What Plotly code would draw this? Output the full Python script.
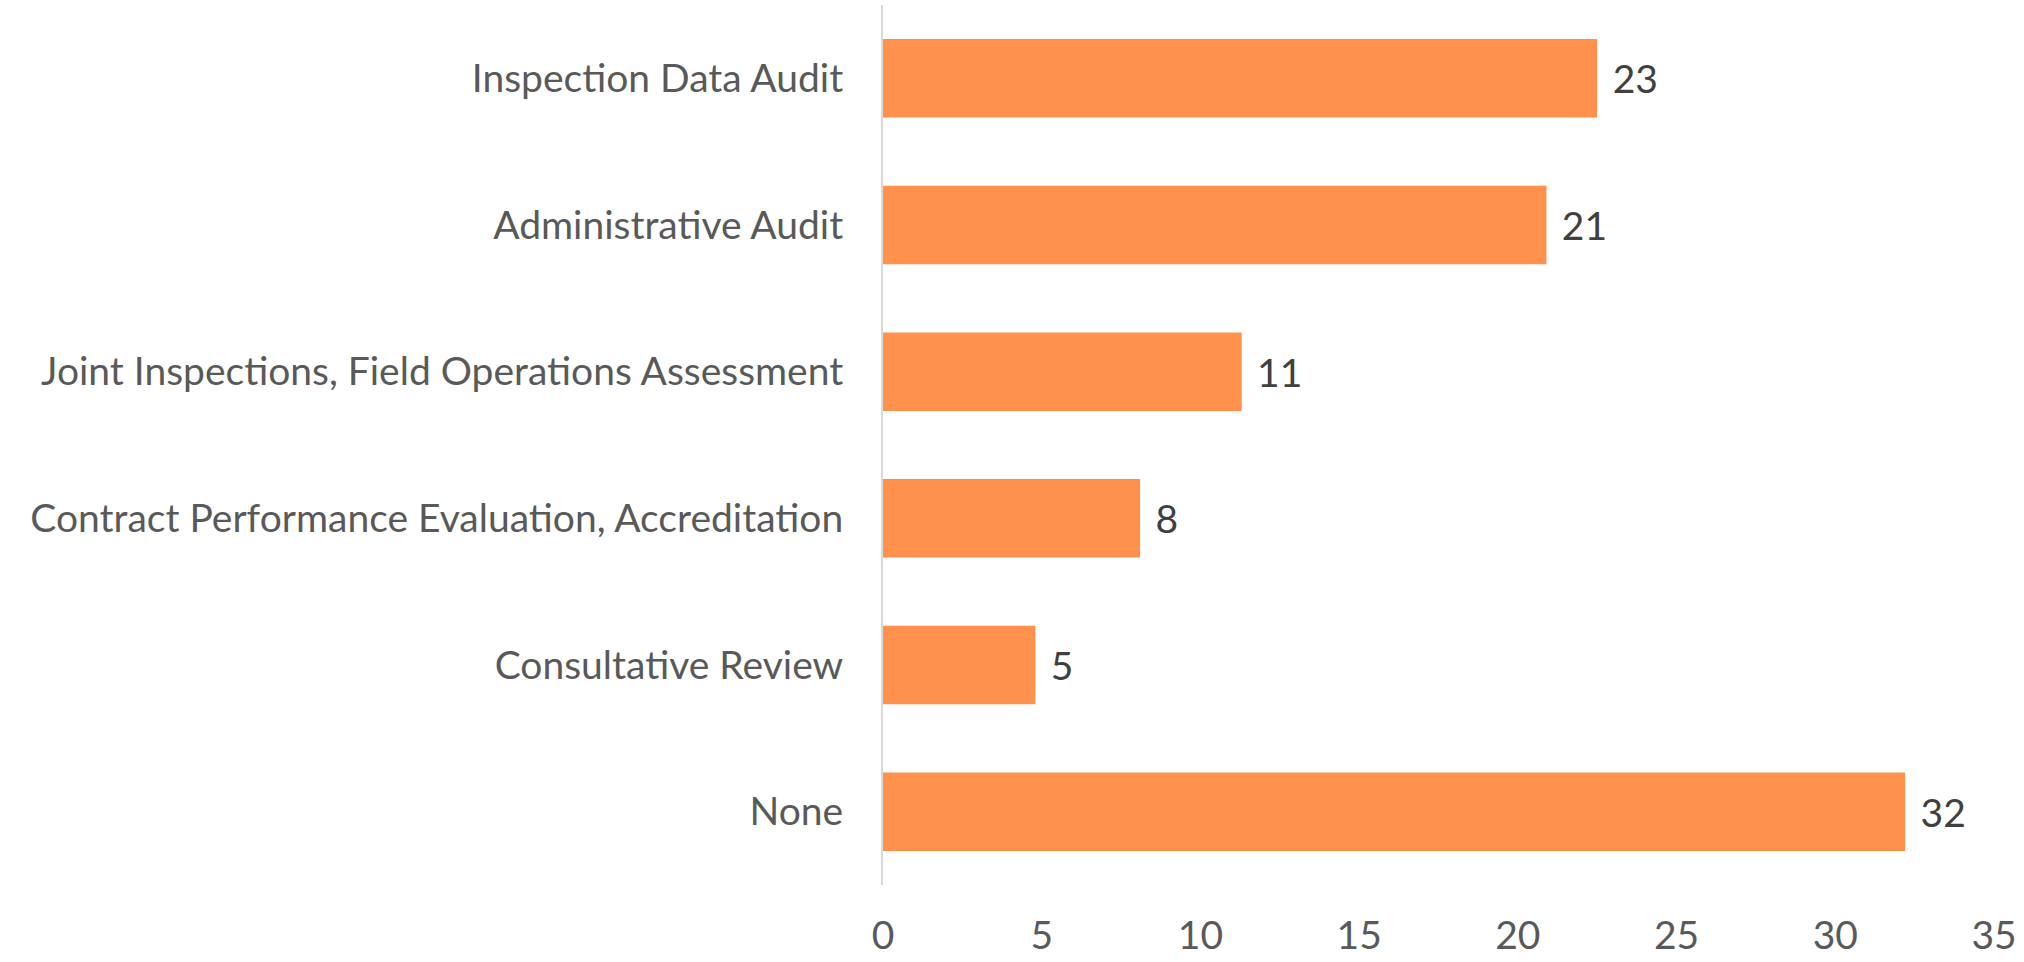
import plotly.graph_objects as go

categories = [
    "Inspection Data Audit",
    "Administrative Audit",
    "Joint Inspections, Field Operations Assessment",
    "Contract Performance Evaluation, Accreditation",
    "Consultative Review",
    "None",
]
values = [22.5, 20.9, 11.3, 8.1, 4.8, 32.2]
value_labels = ["23", "21", "11", "8", "5", "32"]
x_ticks = [0, 5, 10, 15, 20, 25, 30, 35]

FONT = "Lato, 'Open Sans', sans-serif"
FS = 39

fig = go.Figure(
    go.Bar(
        x=values,
        y=categories,
        orientation="h",
        marker=dict(color="#FF914D", line=dict(width=0)),
        text=["\u00a0\u200a" + t for t in value_labels],
        textposition="outside",
        textfont=dict(family=FONT, size=FS, color="#404040"),
        cliponaxis=False,
        hoverinfo="x+y",
    )
)

fig.update_layout(
    width=2024,
    height=962,
    margin=dict(l=883, r=30, t=5, b=67),
    paper_bgcolor="white",
    plot_bgcolor="white",
    bargap=0.465,
    showlegend=False,
    font=dict(family=FONT, size=FS, color="#595959"),
)

fig.update_xaxes(
    range=[0, 35],
    tickvals=x_ticks,
    ticktext=[str(v) for v in x_ticks],
    showgrid=False,
    zeroline=False,
    showline=False,
    ticks="",
    ticklabelstandoff=24,
    tickfont=dict(family=FONT, size=FS, color="#595959"),
)

fig.update_yaxes(
    autorange="reversed",
    showgrid=False,
    zeroline=False,
    showline=True,
    linecolor="#D9D9D9",
    linewidth=2,
    ticks="",
    ticklabelstandoff=30,
    tickfont=dict(family=FONT, size=FS, color="#595959"),
)

fig.write_html(
    "out.html",
    config={"displayModeBar": False},
    post_script="document.body.style.margin='0';document.body.style.overflow='hidden';",
)
